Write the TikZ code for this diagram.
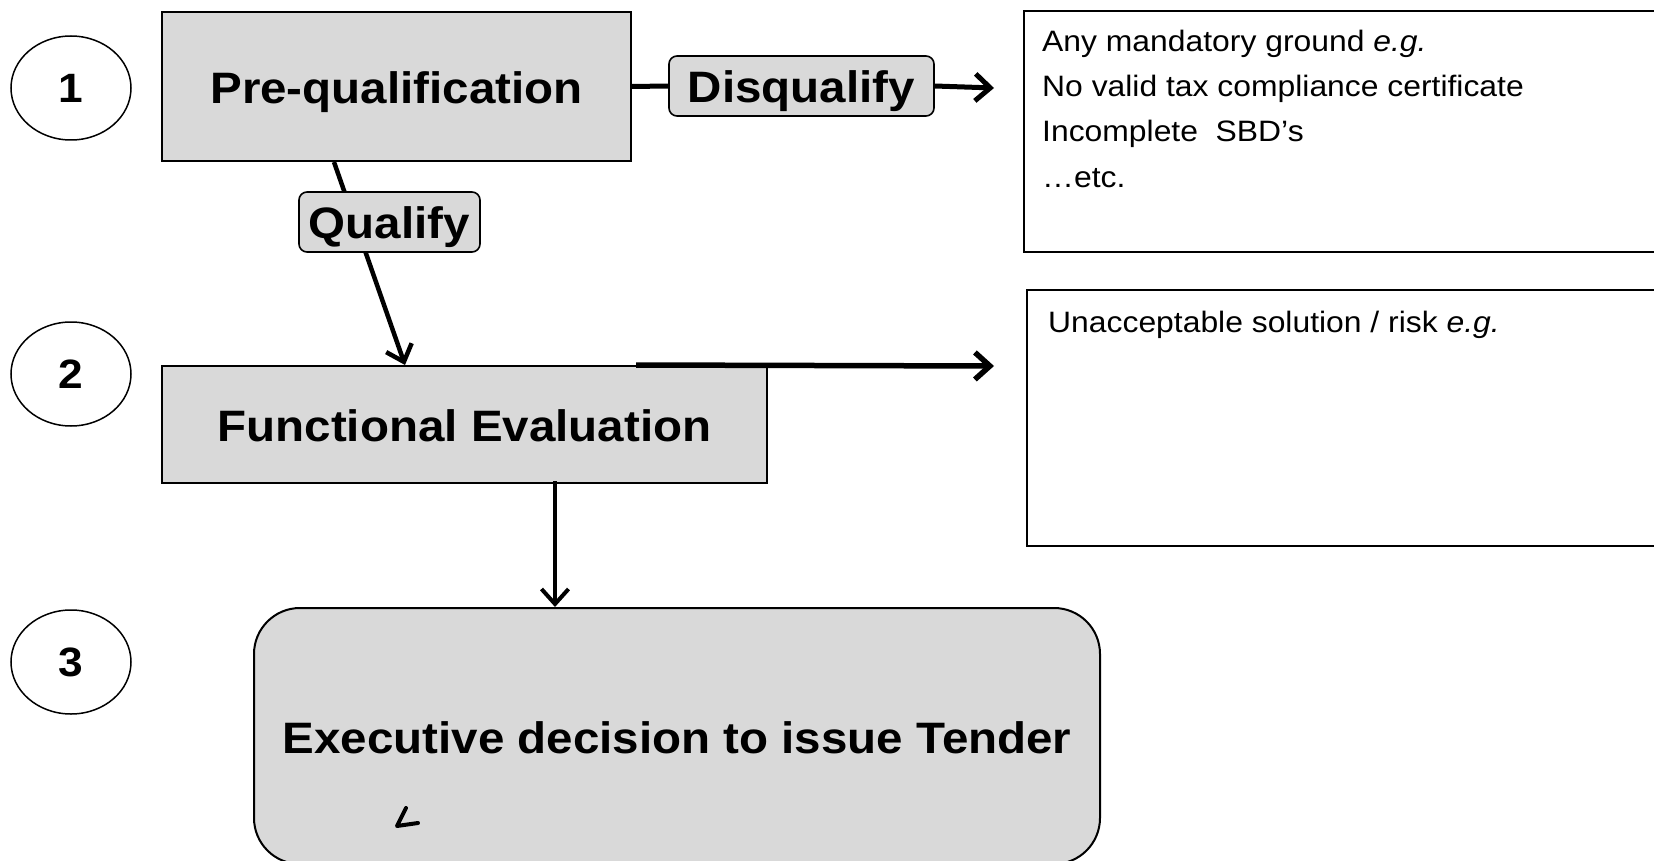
\documentclass[tikz,border=0pt]{standalone}
\usepackage{fontspec}
\setmainfont{Liberation Sans}[FakeStretch=1.08]
\usetikzlibrary{arrows.meta,shapes.geometric,calc}
\definecolor{boxgray}{HTML}{D9D9D9}
\begin{document}
\begin{tikzpicture}[x=1pt,y=-1pt,
  box/.style={draw, line width=2pt, fill=boxgray, inner sep=0pt,
    font=\fontsize{44}{50}\selectfont\bfseries, text height=34pt, text depth=0pt},
  tagbox/.style={box, rounded corners=8pt, line width=1.6pt},
  numcirc/.style={ellipse, draw, line width=1.5pt, minimum width=120pt, minimum height=104pt,
    inner sep=0pt, font=\fontsize{41}{46}\selectfont\bfseries, text height=29pt, text depth=0pt},
  notebox/.style={draw, line width=2pt, inner sep=0pt},
  notetxt/.style={anchor=base west, inner sep=0pt, font=\fontsize{29.5}{34}\selectfont},
  flow/.style={line width=5pt, -{Straight Barb[length=15pt,width=27pt]}},
  plain/.style={line width=5pt}]
\useasboundingbox (0,0) rectangle (1654,861);
\fill[white] (0,0) rectangle (1654,861);

% numbers
\node[numcirc] (c1) at (71,88) {1};
\node[numcirc] (c2) at (71,374) {2};
\node[numcirc] (c3) at (71,662) {3};

% main boxes
\node[box, minimum width=469pt, minimum height=149pt] (pre) at (396.5,86.5) {Pre-qualification};
\node[box, minimum width=605pt, minimum height=117pt] (fe) at (464.5,424.5) {Functional Evaluation};
\node[box, rounded corners=46pt, minimum width=846pt, minimum height=256pt] (exec) at (677,736) {Executive decision to issue Tender};
\node[tagbox, minimum width=265pt, minimum height=60pt] (disq) at (801.5,86) {Disqualify};

% note boxes
\node[notebox, minimum width=656pt, minimum height=241pt] (n1) at (1352,131.5) {};
\node[notetxt] (t1) at (1042,52) {Any mandatory ground \textit{e.g.}};
\node[notetxt] (t2) at (1042,97) {No valid tax compliance certificate};
\node[notetxt] (t3) at (1042,142) {Incomplete\ \ SBD’s};
\node[notetxt] (t4) at (1042,188) {…etc.};
\node[notebox, minimum width=643pt, minimum height=256pt] (n2) at (1348.5,418) {};
\node[notetxt] (t5) at (1048,332) {Unacceptable solution / risk \textit{e.g.}};

% connector coordinates
\coordinate (qa) at ($(pre.south west)+(173,0)$);
\coordinate (qb) at ($(fe.north west)+(244,0)$);
\coordinate (da) at (994,88);
\coordinate (fa) at ($(fe.north west)+(475,0)$);
\coordinate (fb) at (994,366);
\coordinate (ea) at ($(fe.south west)+(394,-3)$);
\coordinate (eb) at ($(exec.north west)+(302,0)$);

% connectors
\draw[plain] (pre.east) -- (disq.west);
\draw[flow] (disq.east) -- (da);
\draw[flow, line width=4.5pt] (qa) -- (qb);
\draw[flow, line width=5.5pt] (fa) -- (fb);
\draw[flow, line width=4pt] (ea) -- (eb);

\node[tagbox, minimum width=181pt, minimum height=60pt] (qual) at (389.5,222) {Qualify};

% stray mark
\draw[line width=4pt, line cap=round, line join=round] (406,808) -- (397,826) -- (418,823);
\end{tikzpicture}
\end{document}
